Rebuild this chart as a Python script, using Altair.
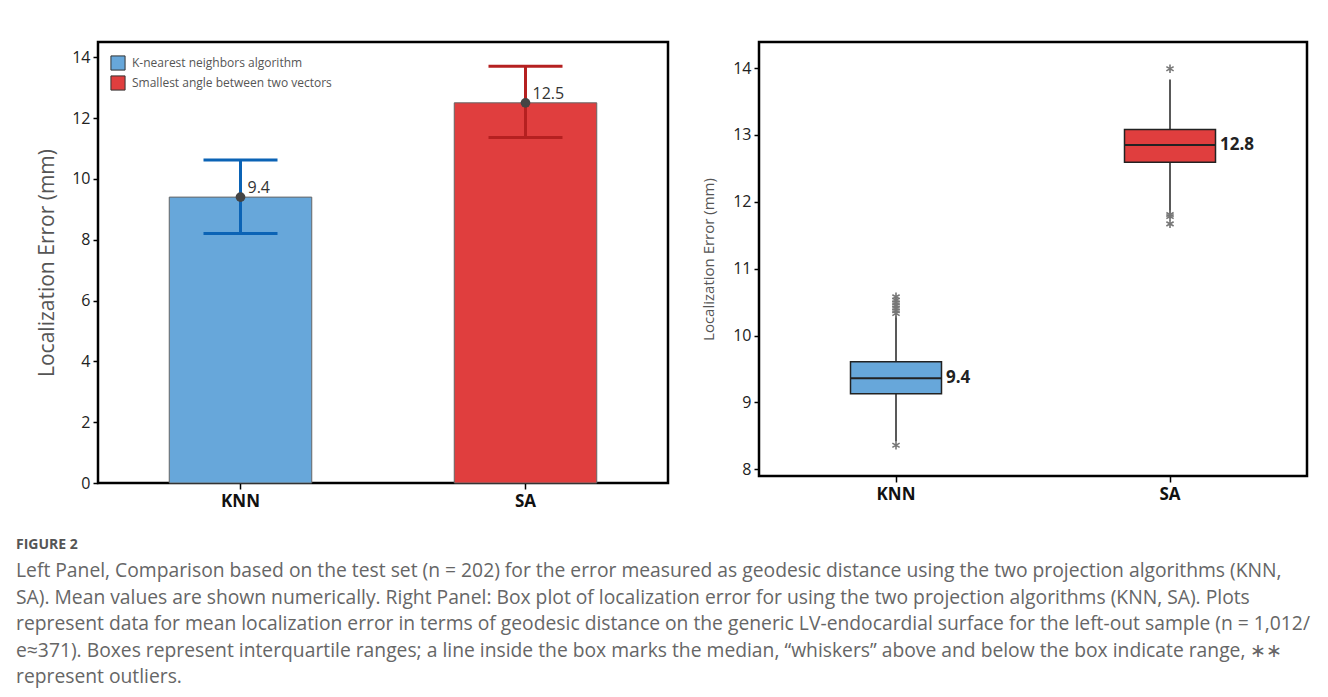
import altair as alt
import pandas as pd

# ---------------- data ----------------
cats = ["KNN", "SA"]
names = ["K-nearest neighbors algorithm", "Smallest angle between two vectors"]
fills = ["#67A7DA", "#E03E3E"]
err_colors = ["#0B63B5", "#B52020"]

# left panel: mean with error bars
bar_means = [9.4, 12.5]
err_low = [8.2, 11.36]
err_high = [10.62, 13.7]
bar_labels = ["9.4", "12.5"]

# right panel: box plot summary
box_q1 = [9.13, 12.59]
box_med = [9.36, 12.85]
box_q3 = [9.61, 13.08]
whisk_lo = [8.42, 11.83]
whisk_hi = [10.30, 13.83]
box_labels = ["9.4", "12.8"]
out_alg = ["KNN"] * 8 + ["SA"] * 4
out_val = [10.33, 10.37, 10.41, 10.45, 10.49, 10.53, 10.58, 8.36,
           13.99, 11.81, 11.78, 11.67]

caption_title = "FIGURE 2"
caption_lines = [
    "Left Panel, Comparison based on the test set (n = 202) for the error measured as geodesic distance using the two projection algorithms (KNN,",
    "SA). Mean values are shown numerically. Right Panel: Box plot of localization error for using the two projection algorithms (KNN, SA). Plots",
    "represent data for mean localization error in terms of geodesic distance on the generic LV-endocardial surface for the left-out sample (n = 1,012/",
    "e\u2248371). Boxes represent interquartile ranges; a line inside the box marks the median, \u201cwhiskers\u201d above and below the box indicate range, \u2217\u2217",
    "represent outliers.",
]

FONT = "Open Sans"

left_df = pd.DataFrame({
    "alg": cats, "name": names, "mean": bar_means, "lo": err_low,
    "hi": err_high, "lab": bar_labels, "ecol": err_colors,
})
box_df = pd.DataFrame({
    "alg": cats, "name": names, "q1": box_q1, "med": box_med, "q3": box_q3,
    "wlo": whisk_lo, "whi": whisk_hi, "lab": box_labels,
})
out_df = pd.DataFrame({"alg": out_alg, "val": out_val})
cap_df = pd.DataFrame({"row": list(range(1, len(caption_lines) + 1)), "txt": caption_lines})
cap_title_df = pd.DataFrame({"row": [0], "txt": [caption_title]})


def x_enc():
    return alt.X(
        "alg:N",
        scale=alt.Scale(domain=cats, paddingInner=0.5, paddingOuter=0.25),
        axis=alt.Axis(title=None, labelAngle=0, labelFontSize=17, labelFontWeight="bold",
                      labelColor="#111", tickColor="black", tickSize=6, tickWidth=1.5,
                      domain=False, labelPadding=4, labelFont=FONT),
    )


def legend(lx, ly):
    return alt.Legend(orient="none", legendX=lx, legendY=ly, title=None, symbolType="square",
                      symbolSize=200, symbolStrokeColor="#333", symbolStrokeWidth=1,
                      symbolOpacity=1, labelFontSize=12, labelColor="#555", rowPadding=0,
                      labelOffset=6, labelFont=FONT, labelLimit=400)


# ---------------- left panel ----------------
yl_scale = alt.Scale(domain=[0, 14.5], nice=False, zero=True)
yl_axis = alt.Axis(values=list(range(0, 15, 2)), title="Localization Error (mm)", grid=False,
                   domain=False, tickColor="black", tickWidth=1.5, tickSize=5,
                   labelFontSize=16, labelColor="#222", labelPadding=3, labelFont=FONT,
                   titleFontSize=21, titleColor="#555", titleFontWeight="normal",
                   titlePadding=14, titleFont=FONT)

left_base = alt.Chart(left_df)
bars = left_base.mark_bar(stroke="#666", strokeWidth=1, opacity=1).encode(
    x=x_enc(),
    y=alt.Y("mean:Q", scale=yl_scale, axis=yl_axis),
    color=alt.Color("name:N", scale=alt.Scale(domain=names, range=fills), legend=legend(12, 13)),
)
err = left_base.mark_rule(strokeWidth=3).encode(
    x=x_enc(), y=alt.Y("lo:Q", scale=yl_scale), y2="hi:Q",
    stroke=alt.Stroke("ecol:N", scale=None),
)
cap_hi = left_base.mark_tick(thickness=3, size=74, opacity=1).encode(
    x=x_enc(), y=alt.Y("hi:Q", scale=yl_scale), fill=alt.Fill("ecol:N", scale=None),
)
cap_lo = left_base.mark_tick(thickness=3, size=74, opacity=1).encode(
    x=x_enc(), y=alt.Y("lo:Q", scale=yl_scale), fill=alt.Fill("ecol:N", scale=None),
)
dots = left_base.mark_circle(size=95, color="#444", opacity=1).encode(
    x=x_enc(), y=alt.Y("mean:Q", scale=yl_scale),
)
lbls = left_base.mark_text(align="left", baseline="middle", dx=7, dy=-9, fontSize=16,
                           color="#333", font=FONT).encode(
    x=x_enc(), y=alt.Y("mean:Q", scale=yl_scale), text="lab:N",
)
left = alt.layer(bars, err, cap_hi, cap_lo, dots, lbls).properties(width=570, height=441)

# ---------------- right panel ----------------
yr_scale = alt.Scale(domain=[7.9, 14.39], nice=False, zero=False)
yr_axis = alt.Axis(values=list(range(8, 15)), format="d", title="Localization Error (mm)",
                   grid=False, domain=False, tickColor="black", tickWidth=1.5, tickSize=5,
                   labelFontSize=16, labelColor="#222", labelPadding=3, labelFont=FONT,
                   titleFontSize=15, titleColor="#555", titleFontWeight="normal",
                   titlePadding=16, titleFont=FONT)

rb = alt.Chart(box_df)
whisk = rb.mark_rule(strokeWidth=1.5, color="#222").encode(
    x=x_enc(), y=alt.Y("wlo:Q", scale=yr_scale, axis=yr_axis), y2="whi:Q",
)
boxes = rb.mark_bar(size=91, stroke="#222", strokeWidth=1.5, opacity=1).encode(
    x=x_enc(), y=alt.Y("q1:Q", scale=yr_scale), y2="q3:Q",
    color=alt.Color("name:N", scale=alt.Scale(domain=names, range=fills), legend=legend(13, 17)),
)
meds = rb.mark_tick(size=91, thickness=2, color="#222", opacity=1).encode(
    x=x_enc(), y=alt.Y("med:Q", scale=yr_scale),
)
blabs = rb.mark_text(align="left", baseline="middle", dx=50, fontSize=17, fontWeight="bold",
                     color="#222", font=FONT).encode(
    x=x_enc(), y=alt.Y("med:Q", scale=yr_scale), text="lab:N",
)
outs = alt.Chart(out_df).mark_point(
    shape="M0,-1L0,1M-0.87,-0.5L0.87,0.5M-0.87,0.5L0.87,-0.5",
    size=70, filled=False, stroke="#777", strokeWidth=1.6, opacity=1,
).encode(x=x_enc(), y=alt.Y("val:Q", scale=yr_scale))
right = alt.layer(whisk, boxes, meds, blabs, outs).properties(width=548, height=434)

# ---------------- caption ----------------
cap_scale = alt.Scale(domain=[0, 5], range=[22, 154])
cap_t = alt.Chart(cap_title_df).mark_text(align="left", baseline="middle", fontSize=14,
                                            fontWeight="bold", color="#555", font=FONT).encode(
    x=alt.value(-82), y=alt.Y("row:Q", scale=cap_scale, axis=None), text="txt:N",
)
cap_b = alt.Chart(cap_df).mark_text(align="left", baseline="middle", fontSize=19.3,
                                      color="#666", font=FONT).encode(
    x=alt.value(-82), y=alt.Y("row:Q", scale=cap_scale, axis=None), text="txt:N",
)
caption = alt.layer(cap_t, cap_b).properties(
    width=570, height=160, view=alt.ViewBackground(stroke="transparent"))

chart = alt.ConcatChart(
    concat=[left, right, caption], columns=2, bounds="flush",
    spacing=alt.RowColnumber(row=40, column=91),
).properties(
    padding={"left": 6, "top": 32, "right": 0, "bottom": 0},
    background="white",
).configure_view(stroke="black", strokeWidth=2.5).configure_text(font=FONT)

chart.save("out.html", embed_options={"renderer": "svg", "actions": False})
